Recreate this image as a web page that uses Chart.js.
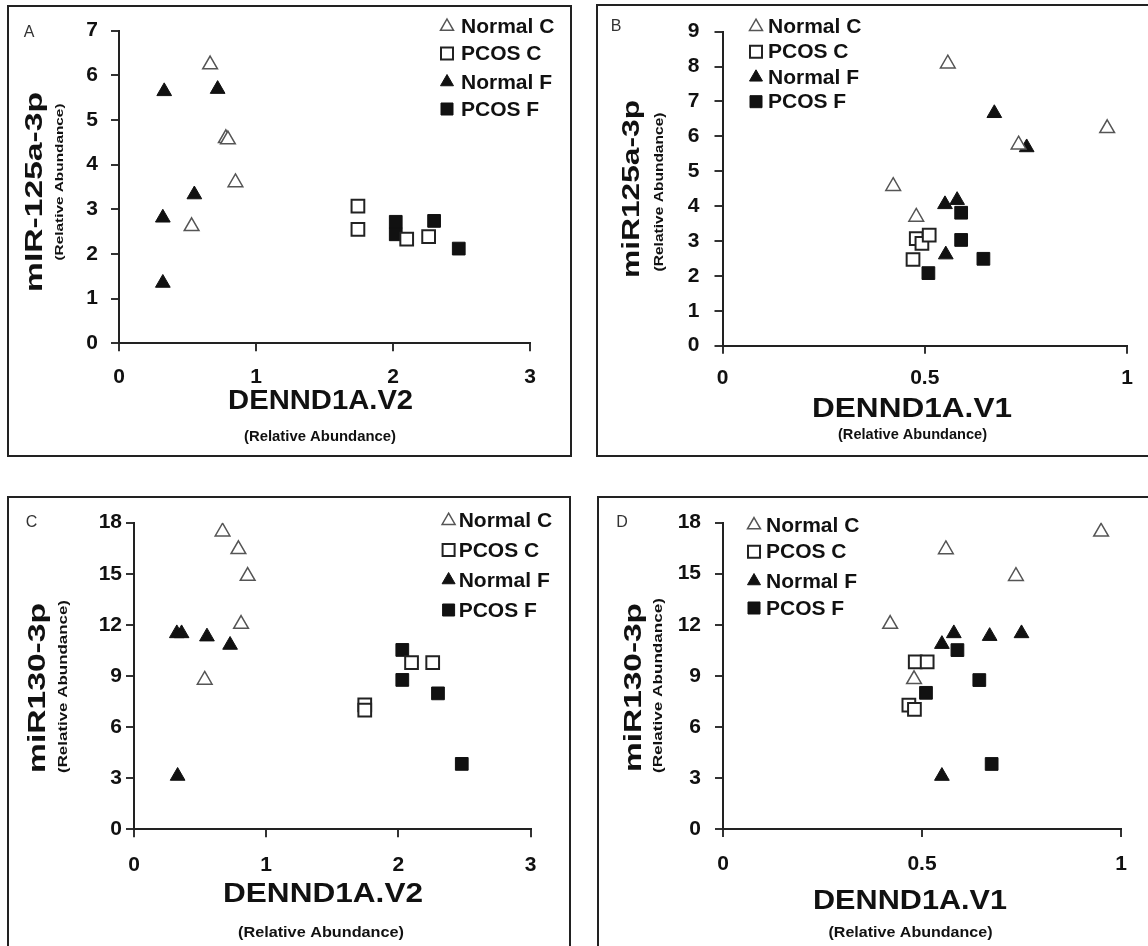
<!DOCTYPE html>
<html><head><meta charset="utf-8">
<script src="https://cdn.jsdelivr.net/npm/chart.js@4/dist/chart.umd.min.js"></script>
<style>
html,body{margin:0;padding:0;background:#fff;width:1148px;height:946px;overflow:hidden;position:relative}
canvas{position:absolute}
.frame{position:absolute;border:2px solid #222;box-sizing:border-box;pointer-events:none}
</style></head><body>
<canvas id="cA"></canvas><canvas id="cB"></canvas><canvas id="cC"></canvas><canvas id="cD"></canvas>
<script>
// ---- tick labels ----
const xTicksV2 = [0, 1, 2, 3];
const xTicksV1 = [0, 0.5, 1];
const yTicksA = [0, 1, 2, 3, 4, 5, 6, 7];
const yTicksB = [0, 1, 2, 3, 4, 5, 6, 7, 8, 9];
const yTicks130 = [0, 3, 6, 9, 12, 15, 18];

// ---- series names ----
const seriesNames = ['Normal C', 'PCOS C', 'Normal F', 'PCOS F'];

// ---- Panel A: DENND1A.V2 vs miR-125a-3p ----
const A_normalC = [[0.665, 6.24], [0.78, 4.59], [0.795, 4.56], [0.85, 3.6], [0.53, 2.62]];
const A_pcosC   = [[1.744, 3.07], [1.744, 2.55], [2.10, 2.33], [2.26, 2.39]];
const A_normalF = [[0.33, 5.64], [0.72, 5.69], [0.55, 3.33], [0.32, 2.81], [0.32, 1.35]];
const A_pcosF   = [[2.02, 2.72], [2.02, 2.44], [2.30, 2.74], [2.48, 2.12]];

// ---- Panel B: DENND1A.V1 vs miR125a-3p ----
const B_normalC = [[0.557, 8.08], [0.422, 4.57], [0.479, 3.69], [0.732, 5.76], [0.951, 6.23]];
const B_pcosC   = [[0.479, 3.07], [0.493, 2.93], [0.511, 3.17], [0.471, 2.47]];
const B_normalF = [[0.672, 6.66], [0.752, 5.68], [0.55, 4.05], [0.58, 4.17], [0.552, 2.61]];
const B_pcosF   = [[0.59, 3.81], [0.59, 3.03], [0.509, 2.08], [0.645, 2.49]];

// ---- Panel C: DENND1A.V2 vs miR130-3p ----
const C_normalC = [[0.67, 17.47], [0.79, 16.44], [0.86, 14.87], [0.81, 12.05], [0.535, 8.77]];
const C_pcosC   = [[1.746, 7.3], [1.746, 7.0], [2.10, 9.78], [2.26, 9.78]];
const C_normalF = [[0.324, 11.5], [0.36, 11.5], [0.552, 11.31], [0.727, 10.82], [0.33, 3.13]];
const C_pcosF   = [[2.03, 10.53], [2.03, 8.77], [2.30, 7.98], [2.48, 3.84]];

// ---- Panel D: DENND1A.V1 vs miR130-3p ----
const D_normalC = [[0.95, 17.46], [0.56, 16.42], [0.736, 14.85], [0.42, 12.04], [0.48, 8.79]];
const D_pcosC   = [[0.483, 9.82], [0.513, 9.82], [0.467, 7.28], [0.481, 7.03]];
const D_normalF = [[0.55, 10.86], [0.58, 11.49], [0.67, 11.33], [0.75, 11.49], [0.55, 3.11]];
const D_pcosF   = [[0.589, 10.51], [0.644, 8.75], [0.51, 8.0], [0.675, 3.82]];

const FF = '"Liberation Sans", Arial, Helvetica, sans-serif';

const styles = [
  {pointStyle: 'triangle', pointRadius: 8.5, backgroundColor: '#ffffff', borderColor: '#555555', borderWidth: 1.5},
  {pointStyle: 'rect', pointRadius: 9, backgroundColor: '#ffffff', borderColor: '#222222', borderWidth: 2},
  {pointStyle: 'triangle', pointRadius: 8.5, backgroundColor: '#111111', borderColor: '#111111', borderWidth: 1},
  {pointStyle: 'rect', pointRadius: 9, backgroundColor: '#111111', borderColor: '#111111', borderWidth: 1}
];

const panels = [
  {id: 'A', box: [7, 5, 565, 452], area: [119, 28.3, 530, 343.3],
   data: [A_normalC, A_pcosC, A_normalF, A_pcosF], xTicks: xTicksV2, yTicks: yTicksA, yPad: 13, xPad: 13,
   xTitle: ['DENND1A.V2', 320.6, 401.7, 185], xSub: ['(Relative Abundance)', 320, 436.7, 152],
   yTitle: ['mIR-125a-3p', 35.5, 192, 200], ySub: ['(Relative Abundance)', 60, 182, 157], subFont: 11,
   letter: ['A', 29, 33], legend: {mx: 447, tx: 461, rows: [26.5, 53.5, 82, 109]}},
  {id: 'B', box: [596, 4, 564, 453], area: [722.5, 29.3, 1127, 345.7],
   data: [B_normalC, B_pcosC, B_normalF, B_pcosF], xTicks: xTicksV1, yTicks: yTicksB, yPad: 15, xPad: 12,
   xTitle: ['DENND1A.V1', 912, 410, 200], xSub: ['(Relative Abundance)', 912.5, 435, 149],
   yTitle: ['miR125a-3p', 632, 189, 178], ySub: ['(Relative Abundance)', 660, 192, 159], subFont: 12,
   letter: ['B', 616, 27], legend: {mx: 756, tx: 768, rows: [26.7, 51.7, 77.3, 101.7]}},
  {id: 'C', box: [7, 496, 564, 464], area: [134, 522.7, 530.5, 829.3],
   data: [C_normalC, C_pcosC, C_normalF, C_pcosF], xTicks: xTicksV2, yTicks: yTicks130, yPad: 4, xPad: 15,
   xTitle: ['DENND1A.V2', 323, 895, 200], xSub: ['(Relative Abundance)', 321, 933, 166],
   yTitle: ['miR130-3p', 38, 688, 170], ySub: ['(Relative Abundance)', 64, 686.5, 173], subFont: 12,
   letter: ['C', 31.6, 523], legend: {mx: 448.6, tx: 458.7, rows: [520.7, 550, 580, 610]}},
  {id: 'D', box: [597, 496, 563, 464], area: [723, 522.3, 1121, 829],
   data: [D_normalC, D_pcosC, D_normalF, D_pcosF], xTicks: xTicksV1, yTicks: yTicks130, yPad: 14, xPad: 15,
   xTitle: ['DENND1A.V1', 910, 901.7, 194], xSub: ['(Relative Abundance)', 910.5, 933, 164],
   yTitle: ['miR130-3p', 634, 687.5, 169], ySub: ['(Relative Abundance)', 659, 685.5, 175], subFont: 12,
   letter: ['D', 622, 523], legend: {mx: 754, tx: 766, rows: [525, 551.7, 581, 608]}}
];

function stretchText(ctx, text, cx, cy, font, len, rotate) {
  ctx.save();
  ctx.font = font;
  const w = ctx.measureText(text).width;
  ctx.translate(cx, cy);
  if (rotate) ctx.rotate(-Math.PI / 2);
  ctx.scale(len / w, 1);
  ctx.textAlign = 'center';
  ctx.textBaseline = 'middle';
  ctx.fillStyle = '#111';
  ctx.fillText(text, 0, 0);
  ctx.restore();
}

function drawMarker(ctx, st, x, y) {
  ctx.save();
  ctx.fillStyle = st.backgroundColor;
  ctx.strokeStyle = st.borderColor;
  ctx.lineWidth = st.borderWidth;
  ctx.beginPath();
  if (st.pointStyle === 'triangle') {
    const r = 7.5;
    for (let k = 0; k < 3; k++) {
      const a = k * 2 * Math.PI / 3;
      const px = x + Math.sin(a) * r, py = y - Math.cos(a) * r;
      if (k === 0) ctx.moveTo(px, py); else ctx.lineTo(px, py);
    }
    ctx.closePath();
  } else {
    ctx.rect(x - 6, y - 6, 12, 12);
  }
  ctx.fill();
  ctx.stroke();
  ctx.restore();
}

function decor(p) {
  const L = p.box[0], T = p.box[1];
  return {
    id: 'decor' + p.id,
    afterDraw(chart) {
      const ctx = chart.ctx;
      stretchText(ctx, p.xTitle[0], p.xTitle[1] - L, p.xTitle[2] - T, 'bold 27px ' + FF, p.xTitle[3], false);
      stretchText(ctx, p.xSub[0], p.xSub[1] - L, p.xSub[2] - T, 'bold 14px ' + FF, p.xSub[3], false);
      stretchText(ctx, p.yTitle[0], p.yTitle[1] - L, p.yTitle[2] - T, 'bold 24px ' + FF, p.yTitle[3], true);
      stretchText(ctx, p.ySub[0], p.ySub[1] - L, p.ySub[2] - T, 'bold ' + p.subFont + 'px ' + FF, p.ySub[3], true);
      ctx.save();
      ctx.font = '16px ' + FF;
      ctx.fillStyle = '#333';
      ctx.textAlign = 'center';
      ctx.textBaseline = 'middle';
      ctx.fillText(p.letter[0], p.letter[1] - L, p.letter[2] - T);
      ctx.restore();
      seriesNames.forEach((name, i) => {
        const y = p.legend.rows[i] - T;
        drawMarker(ctx, styles[i], p.legend.mx - L, y);
        ctx.save();
        ctx.font = 'bold 21px ' + FF;
        ctx.fillStyle = '#111';
        ctx.textAlign = 'left';
        ctx.textBaseline = 'middle';
        ctx.fillText(name, p.legend.tx - L, y + 1);
        ctx.restore();
      });
    }
  };
}

function makeChart(p) {
  const [L, T, W, H] = p.box;
  const [al, at, ar, ab] = p.area;
  const cv = document.getElementById('c' + p.id);
  cv.width = W; cv.height = H;
  cv.style.left = L + 'px'; cv.style.top = T + 'px';
  cv.style.width = W + 'px'; cv.style.height = H + 'px';
  const f = document.createElement('div');
  f.className = 'frame';
  f.style.left = L + 'px'; f.style.top = T + 'px';
  f.style.width = W + 'px'; f.style.height = H + 'px';
  document.body.appendChild(f);

  const tickFont = {family: FF, size: 21, weight: 'bold'};
  const gridOpts = {display: true, drawOnChartArea: false, drawTicks: true, tickLength: 8, color: '#333', lineWidth: 2};
  const borderOpts = {display: true, color: '#222', width: 2};
  const fmt = v => String(v);

  new Chart(cv, {
    type: 'scatter',
    data: {
      datasets: p.data.map((pts, i) => Object.assign({
        label: seriesNames[i],
        data: pts.map(([x, y]) => ({x, y}))
      }, styles[i]))
    },
    options: {
      responsive: false,
      animation: false,
      events: [],
      layout: {padding: {left: 0, top: at - T, right: L + W - ar, bottom: 0}},
      plugins: {legend: {display: false}, tooltip: {enabled: false}},
      scales: {
        x: {
          type: 'linear',
          min: p.xTicks[0], max: p.xTicks[p.xTicks.length - 1],
          afterBuildTicks: s => { s.ticks = p.xTicks.map(v => ({value: v})); },
          afterFit: s => { s.height = T + H - ab; },
          grid: gridOpts, border: borderOpts,
          ticks: {font: tickFont, color: '#111', padding: p.xPad, maxRotation: 0, autoSkip: false, callback: fmt}
        },
        y: {
          type: 'linear',
          min: p.yTicks[0], max: p.yTicks[p.yTicks.length - 1],
          afterBuildTicks: s => { s.ticks = p.yTicks.map(v => ({value: v})); },
          afterFit: s => { s.width = al - L; },
          grid: gridOpts, border: borderOpts,
          ticks: {font: tickFont, color: '#111', padding: p.yPad, autoSkip: false, callback: fmt}
        }
      }
    },
    plugins: [decor(p)]
  });
}

panels.forEach(makeChart);
</script>
</body></html>
